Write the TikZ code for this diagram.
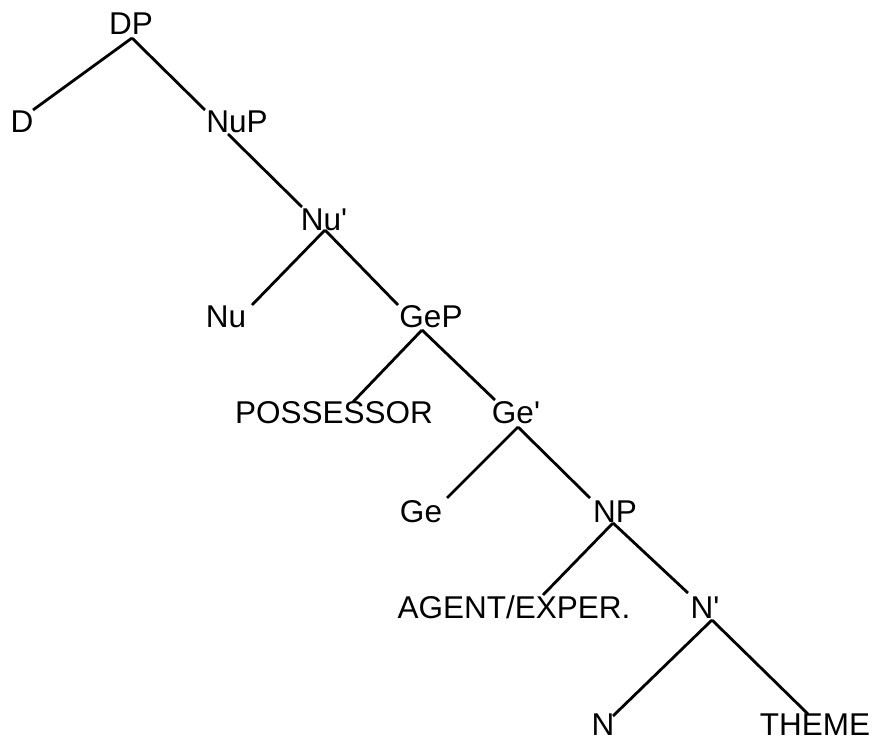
\documentclass[tikz,border=0pt]{standalone}
\usepackage{fontspec}
\setmainfont{Liberation Sans}
\usetikzlibrary{calc}
\begin{document}
\begin{tikzpicture}[x=1pt,y=-1pt,
  lbl/.style={inner sep=0pt, anchor=base, font=\fontsize{31.5}{31.5}\selectfont},
  edge/.style={line width=2.8pt}]
\useasboundingbox (0,0) rectangle (876,741);
\node[lbl] (DP) at (131,35) {DP};
\node[lbl] (D) at (22,133) {D};
\node[lbl] (NuP) at (237,133) {NuP};
\node[lbl] (Nub) at (324,230) {Nu\textquotesingle};
\node[lbl] (Nu) at (226,327) {Nu};
\node[lbl] (GeP) at (431,327) {GeP};
\node[lbl] (POSS) at (334,423) {POSSESSOR};
\node[lbl] (Geb) at (516,423) {Ge\textquotesingle};
\node[lbl] (Ge) at (421,522) {Ge};
\node[lbl] (NP) at (615,522) {NP};
\node[lbl] (AG) at (514,618) {AGENT/EXPER.};
\node[lbl] (Nb) at (705,618) {N\textquotesingle};
\node[lbl] (N) at (603,735) {N};
\node[lbl] (TH) at (815,735) {THEME};
\draw[edge] ($(DP.base)+(1,3)$) -- ($(D.base)+(11,-23)$);
\draw[edge] ($(DP.base)+(1,3)$) -- ($(NuP.base)+(-32,-23)$);
\draw[edge] ($(NuP.base)+(-9,1)$) -- ($(Nub.base)+(-22,-23)$);
\draw[edge] ($(Nub.base)+(1,0)$) -- ($(Nu.base)+(26,-22)$);
\draw[edge] ($(Nub.base)+(1,0)$) -- ($(GeP.base)+(-33,-22)$);
\draw[edge] ($(GeP.base)+(-9,3)$) -- ($(POSS.base)+(19,-21)$);
\draw[edge] ($(GeP.base)+(-9,3)$) -- ($(Geb.base)+(-21,-23)$);
\draw[edge] ($(Geb.base)+(2,4)$) -- ($(Ge.base)+(26,-24)$);
\draw[edge] ($(Geb.base)+(2,4)$) -- ($(NP.base)+(-25,-24)$);
\draw[edge] ($(NP.base)+(-2,1)$) -- ($(AG.base)+(29,-23)$);
\draw[edge] ($(NP.base)+(-2,1)$) -- ($(Nb.base)+(-17,-25)$);
\draw[edge] ($(Nb.base)+(7,2)$) -- ($(N.base)+(10,-19)$);
\draw[edge] ($(Nb.base)+(7,2)$) -- ($(TH.base)+(-7,-21)$);
\end{tikzpicture}
\end{document}
